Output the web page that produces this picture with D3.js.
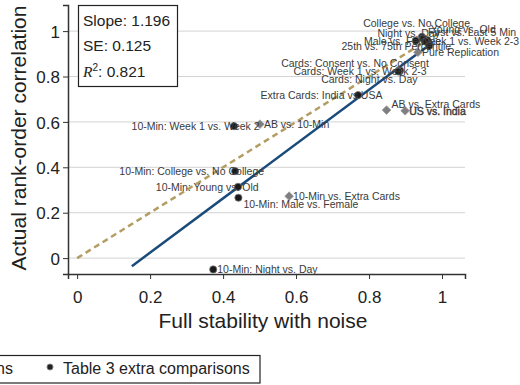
<!DOCTYPE html>
<html lang="en">
<head>
  <meta charset="UTF-8">
  <title>Full stability with noise vs actual rank-order correlation</title>
  <script src="https://d3js.org/d3.v7.min.js"></script>
  <style>
    body { margin: 0; background: #fff; }
    svg { display: block; font-family: "Liberation Sans", Arial, sans-serif; }
    .grid line { stroke: #d3d3d3; stroke-width: 1; }
    .axis path, .axis line { stroke: #333; }
    .axis text { font-size: 17px; fill: #222; }
    .ptlabel { font-size: 10.5px; fill: #3a3a3a; }
  </style>
</head>
<body>
<div id="chart"></div>
<script>
  // points: full stability with noise (x) vs actual rank-order correlation (y)
  const names = [
    "10-Min: Week 1 vs. Week 2", "10-Min: College vs. No College", "10-Min: Young vs. Old",
    "10-Min: Male vs. Female", "10-Min: Night vs. Day", "Extra Cards: India vs USA",
    "Cards: Consent vs. No Consent", "Cards: Week 1 vs. Week 2-3", "Cards: Night vs. Day",
    "College vs. No College", "Young vs. Old", "Night vs. Day", "First vs. Last 5 Min",
    "Male vs. Female", "Week 1 vs. Week 2-3", "25th vs. 75th Percentile",
    "AB vs. 10-Min", "10-Min vs. Extra Cards", "AB vs. Extra Cards", "US vs. India", "Pure Replication"
  ];
  const xVals = [0.430, 0.433, 0.441, 0.442, 0.373, 0.770, 0.883, 0.885, 0.880,
                 0.945, 0.950, 0.960, 0.948, 0.955, 0.928, 0.965,
                 0.501, 0.581, 0.848, 0.899, 0.934];
  const yVals = [0.581, 0.383, 0.314, 0.266, -0.050, 0.718, 0.828, 0.826, 0.822,
                 0.975, 0.965, 0.960, 0.968, 0.955, 0.958, 0.935,
                 0.590, 0.273, 0.652, 0.649, 0.907];
  // "orig" = gray diamonds, "extra" = Table 3 extra comparisons
  const groups = ["extra", "extra", "extra", "extra", "extra", "extra", "extra", "extra", "extra",
                  "extra", "extra", "extra", "extra", "extra", "extra", "extra",
                  "orig", "orig", "orig", "orig", "orig"];
  // marker label clock positions (as in Stata mlabposition)
  const clockPos = [9, 9, 9, 4, 3, 9, 10, 9, 8, 11, 1, 10, 2, 9, 3, 9, 3, 3, 2, 3, 3];

  const xTicks = [0, 0.2, 0.4, 0.6, 0.8, 1];
  const yTicks = [0, 0.2, 0.4, 0.6, 0.8, 1];
  const fit = { slope: 1.196, se: 0.125, r2: 0.821, intercept: -0.215, from: 0.15, to: 0.975 };
  const legendLabels = ["Table 3 comparisons", "Table 3 extra comparisons"];

  const data = names.map((n, i) => ({ name: n, x: xVals[i], y: yVals[i], g: groups[i], pos: clockPos[i] }));

  const width = 520, height = 385;
  const svg = d3.select("#chart").append("svg")
    .attr("width", width).attr("height", height);

  const x = d3.scaleLinear().domain([-0.025, 1.063]).range([68, 465]);
  const y = d3.scaleLinear().domain([-0.07, 1.115]).range([274, 5]);

  // gridlines
  svg.append("g").attr("class", "grid")
    .selectAll("line").data(yTicks).join("line")
      .attr("x1", x.range()[0]).attr("x2", x.range()[1])
      .attr("y1", d => y(d)).attr("y2", d => y(d));

  // axes
  svg.append("g").attr("class", "axis")
    .attr("transform", `translate(0,${y.range()[0]})`)
    .call(d3.axisBottom(x).tickValues(xTicks).tickFormat(d3.format("~g")).tickSize(5).tickPadding(12));
  svg.append("g").attr("class", "axis")
    .attr("transform", `translate(${x.range()[0]},0)`)
    .call(d3.axisLeft(y).tickValues(yTicks).tickFormat(d3.format("~g")).tickSize(5).tickPadding(3))
    .selectAll(".tick text").attr("dy", "0.36em");
  svg.selectAll(".axis path").attr("stroke-width", 1.5);

  // 45 degree line
  svg.append("line")
    .attr("x1", x(0)).attr("y1", y(0)).attr("x2", x(1)).attr("y2", y(1))
    .attr("stroke", "#b29e62").attr("stroke-width", 2.5).attr("stroke-dasharray", "6,4");

  // fitted line
  svg.append("line")
    .attr("x1", x(fit.from)).attr("y1", y(fit.intercept + fit.slope * fit.from))
    .attr("x2", x(fit.to)).attr("y2", y(fit.intercept + fit.slope * fit.to))
    .attr("stroke", "#1b4b7b").attr("stroke-width", 2.5);

  // markers
  const diamond = d3.symbol().type(d3.symbolDiamond2).size(48);
  svg.append("g").selectAll("path").data(data.filter(d => d.g === "orig")).join("path")
    .attr("d", diamond)
    .attr("transform", d => `translate(${x(d.x)},${y(d.y)})`)
    .attr("fill", "#7f7f7f").attr("stroke", "#9a9a9a").attr("stroke-width", 0.8);
  svg.append("g").selectAll("circle").data(data.filter(d => d.g === "extra")).join("circle")
    .attr("cx", d => x(d.x)).attr("cy", d => y(d.y)).attr("r", 3.6)
    .attr("fill", "#1a1a1a").attr("stroke", "#777").attr("stroke-width", 0.8);

  // marker labels
  const labelPlace = {
    9: [-0.8, 0], 10: [-0.8, -7], 8: [-0.8, 7], 11: [-0.55, -14],
    3: [4, 0], 2: [5, -6], 4: [5, 6], 1: [7, -10]
  };
  svg.append("g").selectAll("text").data(data).join("text")
    .attr("class", "ptlabel")
    .attr("dominant-baseline", "central")
    .text(d => d.name)
    .each(function(d) {
      const w = this.getComputedTextLength();
      const [k, dy] = labelPlace[d.pos];
      const lx = k < 0 ? x(d.x) + k * w : x(d.x) + k;
      d3.select(this).attr("x", lx).attr("y", y(d.y) + dy);
      if (d.name === "US vs. India") d3.select(this).attr("stroke", "#3a3a3a").attr("stroke-width", 0.4);
    });

  // stats box
  const box = svg.append("g");
  box.append("rect").attr("x", 78.5).attr("y", 5.5).attr("width", 99).attr("height", 81)
    .attr("fill", "#fff").attr("stroke", "#222").attr("stroke-width", 1.2);
  const stats = box.append("g").attr("font-size", 15.5).attr("fill", "#222");
  stats.append("text").attr("x", 83).attr("y", 26).text("Slope: " + fit.slope.toFixed(3));
  stats.append("text").attr("x", 83).attr("y", 51).text("SE: " + fit.se.toFixed(3));
  const r2 = stats.append("text").attr("x", 83).attr("y", 77);
  r2.append("tspan").attr("font-family", "Liberation Serif, serif").attr("font-style", "italic").text("R");
  r2.append("tspan").attr("font-size", 10).attr("dy", -6).text("2");
  r2.append("tspan").attr("dy", 6).text(": " + fit.r2.toFixed(3));

  // axis titles
  svg.append("text").attr("x", 263).attr("y", 328).attr("text-anchor", "middle")
    .attr("font-size", 21).attr("fill", "#222").text("Full stability with noise");
  svg.append("text").attr("transform", "translate(26,138) rotate(-90)").attr("text-anchor", "middle")
    .attr("font-size", 21).attr("fill", "#222").text("Actual rank-order correlation");

  // legend (extends past the left edge, as in the reference)
  const lg = svg.append("g");
  lg.append("rect").attr("x", -180).attr("y", 355.5).attr("width", 440).attr("height", 27.5)
    .attr("fill", "#fff").attr("stroke", "#222").attr("stroke-width", 1.2);
  lg.append("text").attr("x", 13).attr("y", 374).attr("text-anchor", "end")
    .attr("font-size", 16).attr("fill", "#222").text(legendLabels[0]);
  lg.append("path").attr("d", diamond).attr("transform", "translate(-150,368)").attr("fill", "#7f7f7f");
  lg.append("circle").attr("cx", 50).attr("cy", 367).attr("r", 3).attr("fill", "#222").attr("stroke", "#777");
  lg.append("text").attr("x", 63).attr("y", 374)
    .attr("font-size", 16).attr("fill", "#222").text(legendLabels[1]);
</script>
</body>
</html>
